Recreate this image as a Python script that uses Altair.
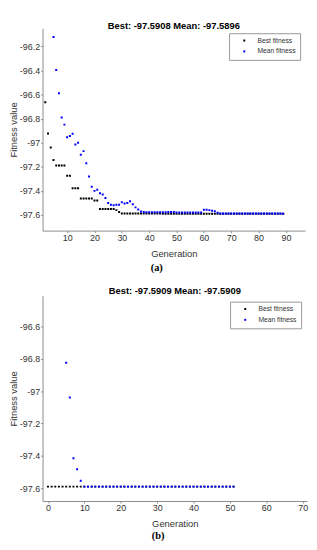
import altair as alt
import pandas as pd

# ---------------- Panel (a) data ----------------
a_title = "Best: -97.5908 Mean: -97.5896"
a_best_gen = list(range(2, 90))
a_best = ([-96.664, -96.924, -97.039, -97.143]
          + [-97.19] * 4 + [-97.275] * 2 + [-97.378] * 3 + [-97.463] * 5
          + [-97.48] * 2 + [-97.55] * 6 + [-97.56, -97.575]
          + [-97.588] * 15 + [-97.59] * 35 + [-97.5908] * 10)
a_mean_gen = list(range(5, 90))
a_mean = [-96.123, -96.397, -96.59, -96.79, -96.85, -96.955, -96.945, -96.925,
          -97.015, -97.0, -97.1, -97.07, -97.17, -97.28, -97.365, -97.40,
          -97.39, -97.42, -97.43, -97.46, -97.50, -97.515, -97.52, -97.515,
          -97.515, -97.495, -97.505, -97.50, -97.487, -97.512, -97.537, -97.554,
          -97.572, -97.575, -97.578, -97.578, -97.578, -97.578, -97.578, -97.578,
          -97.578, -97.578, -97.575, -97.575, -97.575, -97.58, -97.58, -97.58,
          -97.58, -97.58, -97.58, -97.58, -97.58, -97.58, -97.58, -97.556,
          -97.557, -97.56, -97.566, -97.57, -97.582, -97.587, -97.587, -97.587,
          -97.587, -97.587, -97.587, -97.587, -97.587, -97.587, -97.587, -97.587,
          -97.587, -97.587, -97.587, -97.587, -97.587, -97.587, -97.587, -97.587,
          -97.587, -97.587, -97.587, -97.587, -97.5896]
a_x_ticks = [10, 20, 30, 40, 50, 60, 70, 80, 90]
a_y_ticks = [-97.6, -97.4, -97.2, -97.0, -96.8, -96.6, -96.4, -96.2]
a_x_domain = [1, 97]
a_y_domain = [-97.73, -96.05]

# ---------------- Panel (b) data ----------------
b_title = "Best: -97.5909 Mean: -97.5909"
b_best_gen = list(range(0, 52))
b_best = [-97.5909] * 52
b_mean_gen = list(range(5, 52))
b_mean = [-96.825, -97.039, -97.416, -97.483, -97.555] + [-97.5909] * 42
b_x_ticks = [0, 10, 20, 30, 40, 50, 60, 70]
b_y_ticks = [-97.6, -97.4, -97.2, -97.0, -96.8, -96.6]
b_x_domain = [-1.5, 71.2]
b_y_domain = [-97.68, -96.41]

series = ["Best fitness", "Mean fitness"]
colors = ["#000000", "#0000ff"]

FONT = "Liberation Sans"


def panel(best_gen, best, mean_gen, mean, xdom, ydom, xticks, yticks, title, w, h,
          loff, toff):
    df = pd.concat([
        pd.DataFrame({"gen": best_gen, "val": best, "series": series[0]}),
        pd.DataFrame({"gen": mean_gen, "val": mean, "series": series[1]}),
    ], ignore_index=True)
    df["order"] = range(len(df))
    return alt.Chart(df).mark_square(size=4, opacity=1, clip=True).encode(
        x=alt.X("gen:Q", title="Generation",
                scale=alt.Scale(domain=xdom, nice=False, zero=False),
                axis=alt.Axis(values=xticks, labelExpr="datum.value + ''")),
        y=alt.Y("val:Q", title="Fitness value",
                scale=alt.Scale(domain=ydom, nice=False, zero=False),
                axis=alt.Axis(values=yticks, labelExpr="datum.value + ''")),
        color=alt.Color("series:N", scale=alt.Scale(domain=series, range=colors),
                        legend=alt.Legend(title=None, orient="top-right", offset=loff,
                                          padding=4, symbolOffset=8, labelOffset=10,
                                          symbolType="square", symbolSize=4,
                                          labelFontSize=6.8, labelFont=FONT,
                                          labelColor="#333333", rowPadding=3,
                                          strokeColor="#999999", fillColor="white",
                                          cornerRadius=0)),
        order="order:Q",
    ).properties(
        width=w, height=h,
        title=alt.TitleParams(title, font=FONT, fontSize=9.5, fontWeight="bold",
                              color="#000000", anchor="middle", frame="group",
                              offset=toff),
    )


pa = panel(a_best_gen, a_best, a_mean_gen, a_mean, a_x_domain, a_y_domain,
           a_x_ticks, a_y_ticks, a_title, 266, 205, 5, -2)
pb = panel(b_best_gen, b_best, b_mean_gen, b_mean, b_x_domain, b_y_domain,
           b_x_ticks, b_y_ticks, b_title, 268, 208, 6, 0)

cap = dict(orient="bottom", font="Liberation Serif", fontSize=10.5, fontWeight="bold",
           color="#000000", anchor="middle")

ca = alt.vconcat(pa).properties(title=alt.TitleParams("(a)", offset=5, **cap)).resolve_scale(
    color="independent").resolve_legend(color="independent")
cb = alt.vconcat(pb).properties(title=alt.TitleParams("(b)", offset=3, **cap)).resolve_scale(
    color="independent").resolve_legend(color="independent")

chart = alt.vconcat(ca, cb, spacing=13).properties(
    padding={"top": 9, "left": 0, "right": 1, "bottom": 0}
).resolve_scale(color="independent", x="independent", y="independent").resolve_legend(
    color="independent"
).configure_view(stroke=None).configure_axis(
    grid=False, domainColor="#8c8c8c", tickColor="#8c8c8c", tickSize=2,
    labelPadding=1, labelFont=FONT, labelFontSize=9, labelColor="#333333",
    titleFont=FONT, titleFontSize=9.5, titleFontWeight="normal", titleColor="#333333",
).configure_axisY(titlePadding=1).configure_axisX(titlePadding=6)

chart.save("out.html", embed_options={"renderer": "svg", "actions": False})
